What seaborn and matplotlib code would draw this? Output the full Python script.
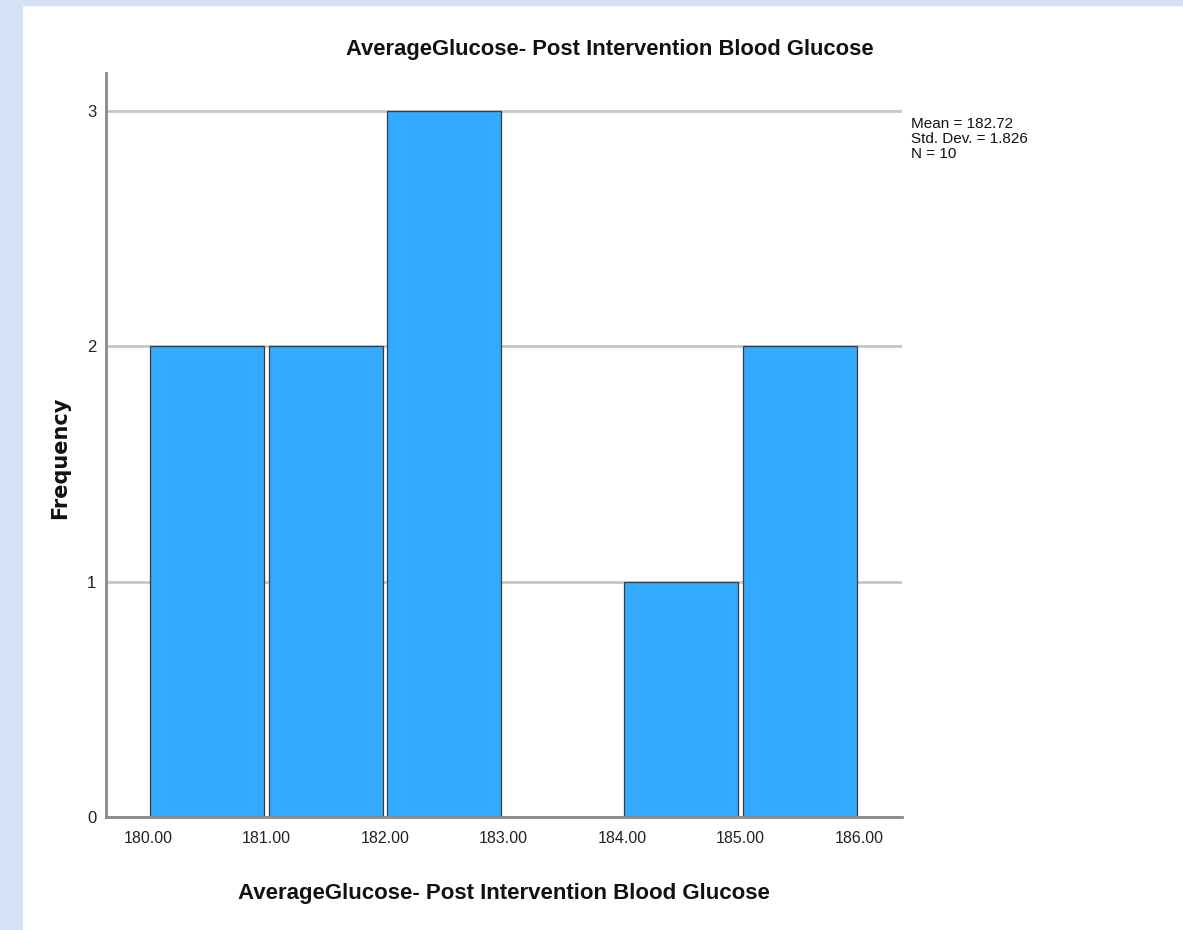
import numpy as np
import pandas as pd
import seaborn as sns
import matplotlib.pyplot as plt
import matplotlib.patches as mpatches

# Histogram data
bin_edges = [180.0, 181.0, 182.0, 183.0, 184.0, 185.0, 186.0]
counts = [2, 2, 3, 0, 1, 2]
tick_values = [180.0, 181.0, 182.0, 183.0, 184.0, 185.0, 186.0]
y_ticks = [0, 1, 2, 3]
stats_text = ["Mean = 182.72", "Std. Dev. = 1.826", "N = 10"]
title = "AverageGlucose- Post Intervention Blood Glucose"

sns.set_theme(style="white")
plt.rcParams['font.family'] = ['Liberation Sans', 'DejaVu Sans']

centers = [(a + b) / 2 for a, b in zip(bin_edges[:-1], bin_edges[1:])]
df = pd.DataFrame({"value": centers, "count": counts})

fig = plt.figure(figsize=(11.83, 9.30), dpi=100)
fig.patch.set_facecolor("white")
# light blue page border (left and top strips)
fig.patches.append(mpatches.Rectangle((0, 0), 0.0186, 1, transform=fig.transFigure,
                                      color="#d3e3f5", zorder=-1))
fig.patches.append(mpatches.Rectangle((0, 0.9946), 1, 0.0054, transform=fig.transFigure,
                                      color="#d3e3f5", zorder=-1))

ax = fig.add_axes([0.0896, 0.1215, 0.6729, 0.80])
sns.histplot(data=df, x="value", weights="count", bins=bin_edges, shrink=0.965,
             color="#33aaff", alpha=1, edgecolor="#3a3a3a", linewidth=0.9, ax=ax)

ax.set_xlim(179.645, 186.363)
ax.set_ylim(0, 3.16)
ax.set_xticks(tick_values)
ax.set_xticklabels([f"{v:.2f}" for v in tick_values], fontsize=11.5)
ax.set_yticks(y_ticks)
ax.set_yticklabels([str(v) for v in y_ticks], fontsize=12)
ax.tick_params(axis="x", length=0, pad=10, colors="#222222")
ax.tick_params(axis="y", length=0, pad=7, colors="#222222")
ax.yaxis.grid(True, color="#c8c8c8", linewidth=2)
ax.set_axisbelow(True)
for s in ["top", "right"]:
    ax.spines[s].set_visible(False)
for s in ["left", "bottom"]:
    ax.spines[s].set_color("#8a8a8a")
    ax.spines[s].set_linewidth(2)

ax.set_xlabel(title, fontsize=16, fontweight="bold", labelpad=27, color="#111111")
ax.set_ylabel("Frequency", fontsize=15, fontweight="bold", family="DejaVu Sans",
              color="#111111")
ax.yaxis.set_label_coords(-0.045, 0.4825)

fig.text(610 / 1183, 1 - 49 / 930, title, fontsize=15.8, fontweight="bold",
         ha="center", va="center", color="#111111")

for i, line in enumerate(stats_text):
    fig.text(911 / 1183, 1 - (124 + 15 * i) / 930, line, fontsize=11,
             ha="left", va="center", color="#111111")

fig.savefig("out.png", dpi=100)
